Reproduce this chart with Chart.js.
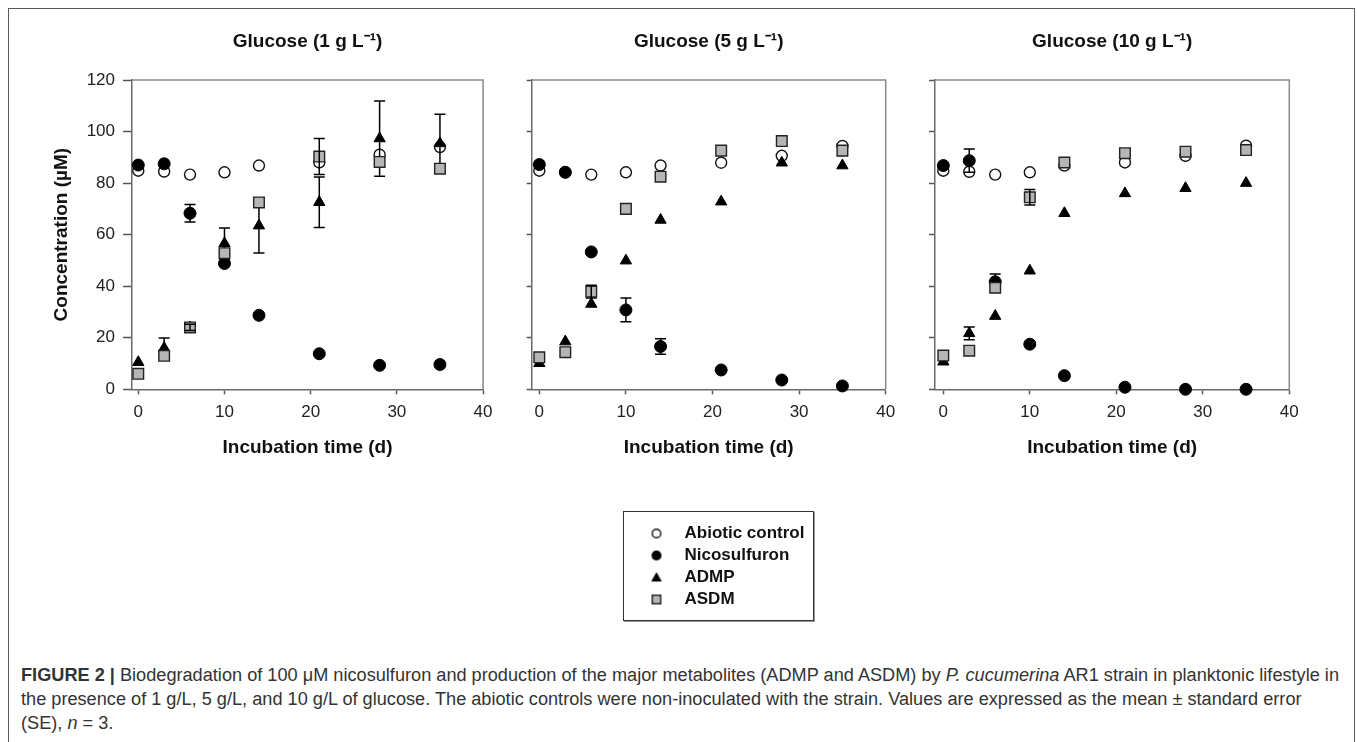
<!DOCTYPE html>
<html>
<head>
<meta charset="utf-8">
<script src="https://cdn.jsdelivr.net/npm/chart.js@4.4.1/dist/chart.umd.min.js"></script>
<style>
  html, body { margin: 0; padding: 0; background: #fff; width: 1357px; height: 742px; overflow: hidden; }
  #frame { position: absolute; left: 8px; top: 8px; width: 1347px; height: 800px; border: 1.5px solid #5a5a5a; box-sizing: border-box; }
  canvas.panel { position: absolute; top: 10px; }
  #legendBox { position: absolute; left: 623px; top: 511px; width: 191px; height: 110px; border: 1.5px solid #333; box-sizing: border-box; box-shadow: 1px 1px 0 #999; background: #fff; overflow: hidden; }
  #legend { position: absolute; left: -1.5px; top: -1.5px; }
  #caption { position: absolute; left: 21px; top: 663px; font-family: "Liberation Sans Narrow", "Arial Narrow", "Liberation Sans", Arial, sans-serif; font-size: 18px; line-height: 24px; color: #333; }
  .cl { white-space: nowrap; width: max-content; transform-origin: 0 0; }
</style>
</head>
<body>
<div id="frame"></div>
<canvas id="p1" class="panel" width="490" height="460" style="left:10px"></canvas>
<canvas id="p2" class="panel" width="405" height="460" style="left:500px"></canvas>
<canvas id="p3" class="panel" width="410" height="460" style="left:900px"></canvas>
<div id="legendBox"><canvas id="legend" width="191" height="240"></canvas></div>
<div id="caption">
  <div class="cl" id="cl1"><b>FIGURE 2 |</b> Biodegradation of 100 μM nicosulfuron and production of the major metabolites (ADMP and ASDM) by <i>P. cucumerina</i> AR1 strain in planktonic lifestyle in</div>
  <div class="cl">the presence of 1 g/L, 5 g/L, and 10 g/L of glucose. The abiotic controls were non-inoculated with the strain. Values are expressed as the mean ± standard error</div>
  <div class="cl">(SE), <i>n</i> = 3.</div>
</div>
<script>
// ---------------- data ----------------
const days = [0, 3, 6, 10, 14, 21, 28, 35];
const xTicks = [0, 10, 20, 30, 40];
const yTicks = [0, 20, 40, 60, 80, 100, 120];
const seriesNames = ['Abiotic control', 'Nicosulfuron', 'ADMP', 'ASDM'];
const panelTitles = ['Glucose (1 g L⁻¹)', 'Glucose (5 g L⁻¹)', 'Glucose (10 g L⁻¹)'];
const xAxisTitle = 'Incubation time (d)';
const yAxisTitle = 'Concentration (µM)';

// Glucose 1 g/L
const abiotic1 = [84.8, 84.5, 83.3, 84.2, 86.8, 88.0, 91.0, 94.0];
const nico1    = [87.0, 87.5, 68.3, 48.8, 28.7, 13.8, 9.3, 9.6];
const nicoErr1 = [0, 0, 3.4, 0, 0, 0, 0, 0];
const admp1    = [10.5, 16.0, 24.0, 56.6, 63.5, 72.6, 97.3, 95.4];
const admpErr1 = [0, 3.9, 0, 6.0, 10.6, 9.8, 14.6, 11.3];
const asdm1    = [6.0, 13.0, 24.0, 52.8, 72.5, 90.3, 88.2, 85.6];
const asdmErr1 = [0, 0, 1.2, 0, 0, 7.0, 0, 0];

// Glucose 5 g/L
const abiotic2 = [84.8, 84.2, 83.3, 84.2, 86.8, 87.9, 90.6, 94.4];
const nico2    = [87.2, 84.2, 53.3, 30.8, 16.6, 7.5, 3.6, 1.3];
const nicoErr2 = [0, 0, 0, 4.6, 3.0, 0, 0, 0];
const admp2    = [10.1, 18.5, 33.1, 49.9, 65.7, 72.8, 87.9, 86.8];
const admpErr2 = [0, 0, 0, 0, 0, 0, 0, 0];
const asdm2    = [12.4, 14.4, 37.9, 70.0, 82.5, 92.6, 96.3, 92.6];
const asdmErr2 = [0, 0, 2.5, 0, 0, 0, 0, 0];

// Glucose 10 g/L
const abiotic3 = [84.8, 84.4, 83.3, 84.2, 86.8, 88.0, 90.6, 94.5];
const nico3    = [86.8, 88.7, 41.7, 17.5, 5.3, 0.8, 0.0, 0.0];
const nicoErr3 = [0, 4.5, 3.0, 0, 0, 0, 0, 0];
const admp3    = [10.7, 21.7, 28.4, 46.0, 68.3, 76.0, 78.0, 80.0];
const admpErr3 = [0, 2.5, 0, 0, 0, 0, 0, 0];
const asdm3    = [13.1, 15.0, 39.4, 74.5, 88.0, 91.6, 92.2, 92.8];
const asdmErr3 = [0, 0, 0, 3.0, 0, 0, 0, 0];

// ---------------- styles / layout ----------------
const FONT = '"Liberation Sans", Arial, Helvetica, sans-serif';
Chart.defaults.font.family = FONT;

const seriesStyles = [
  { pointStyle: 'circle',   radius: 5.5, bg: '#ffffff', border: '#111', bw: 1.4, order: 3 },
  { pointStyle: 'circle',   radius: 6.0, bg: '#000000', border: '#000', bw: 1.0, order: 2 },
  { pointStyle: 'triangle', radius: 6.5, bg: '#000000', border: '#000', bw: 1.0, order: 1 },
  { pointStyle: 'rect',     radius: 7.5, bg: '#b5b5b5', border: '#222', bw: 1.4, order: 0 }
];

const panelLayout = [
  { id: 'p1', yWidth: 122,  padRight: 15,   xMin: -0.73, tickLen: 9, showY: true },
  { id: 'p2', yWidth: 31.7, padRight: 19.3, xMin: -0.88, tickLen: 5, showY: false },
  { id: 'p3', yWidth: 35,   padRight: 20.7, xMin: -0.96, tickLen: 6, showY: false }
];

const panels = [
  { values: [abiotic1, nico1, admp1, asdm1], errors: [null, nicoErr1, admpErr1, asdmErr1] },
  { values: [abiotic2, nico2, admp2, asdm2], errors: [null, nicoErr2, admpErr2, asdmErr2] },
  { values: [abiotic3, nico3, admp3, asdm3], errors: [null, nicoErr3, admpErr3, asdmErr3] }
];

// ---------------- plugins ----------------
const frameLines = {
  id: 'frameLines',
  beforeDatasetsDraw(chart) {
    const { ctx, chartArea: a } = chart;
    ctx.save();
    ctx.strokeStyle = '#8a8a8a';
    ctx.lineWidth = 1.5;
    ctx.beginPath();
    ctx.moveTo(a.left, a.top);
    ctx.lineTo(a.right, a.top);
    ctx.lineTo(a.right, a.bottom);
    ctx.stroke();
    ctx.restore();
  }
};

const errorBars = {
  id: 'errorBars',
  afterDatasetDraw(chart, args) {
    const ds = chart.data.datasets[args.index];
    if (!ds.errors) return;
    const xs = chart.scales.x, ys = chart.scales.y, ctx = chart.ctx;
    ctx.save();
    ctx.strokeStyle = '#000';
    ctx.lineWidth = 1.5;
    ds.data.forEach((p, i) => {
      const e = ds.errors[i];
      if (!e) return;
      const x = xs.getPixelForValue(p.x);
      const yt = ys.getPixelForValue(p.y + e);
      const yb = ys.getPixelForValue(p.y - e);
      ctx.beginPath();
      ctx.moveTo(x, yt); ctx.lineTo(x, yb);
      ctx.moveTo(x - 5.5, yt); ctx.lineTo(x + 5.5, yt);
      ctx.moveTo(x - 5.5, yb); ctx.lineTo(x + 5.5, yb);
      ctx.stroke();
    });
    ctx.restore();
  }
};

// ---------------- panels ----------------
panels.forEach((panel, pi) => {
  const L = panelLayout[pi];
  const datasets = seriesNames.map((name, si) => {
    const st = seriesStyles[si];
    return {
      label: name,
      data: days.map((d, k) => ({ x: d, y: panel.values[si][k] })),
      errors: panel.errors[si],
      pointStyle: st.pointStyle,
      pointRadius: st.radius,
      pointBackgroundColor: st.bg,
      pointBorderColor: st.border,
      pointBorderWidth: st.bw,
      backgroundColor: st.bg,
      borderColor: st.border,
      showLine: false,
      clip: false,
      order: st.order
    };
  });
  new Chart(document.getElementById(L.id), {
    type: 'scatter',
    data: { datasets },
    options: {
      responsive: false,
      animation: false,
      events: [],
      layout: { padding: { left: 0, right: L.padRight, top: 0, bottom: 0 } },
      plugins: {
        legend: { display: false },
        tooltip: { enabled: false },
        title: {
          display: true, text: panelTitles[pi], fullSize: false,
          color: '#111', font: { size: 19, weight: 'bold' },
          padding: { top: 20.6, bottom: 26.6 }
        }
      },
      scales: {
        x: {
          type: 'linear', min: L.xMin, max: 40,
          afterBuildTicks: ax => { ax.ticks = xTicks.map(v => ({ value: v })); },
          afterFit: ax => { ax.height = 80.7; },
          grid: { display: true, drawOnChartArea: false, drawTicks: true, tickLength: 5, tickColor: '#555', tickWidth: 1.5 },
          border: { display: true, color: '#6a6a6a', width: 1.5 },
          ticks: { padding: 7.5, color: '#222', font: { size: 17 } },
          title: { display: true, text: xAxisTitle, color: '#111', font: { size: 19, weight: 'bold' }, padding: { top: 10, bottom: 10.6 } }
        },
        y: {
          type: 'linear', min: 0, max: 120,
          afterBuildTicks: ax => { ax.ticks = yTicks.map(v => ({ value: v })); },
          afterFit: ax => { ax.width = L.yWidth; },
          grid: { display: true, drawOnChartArea: false, drawTicks: true, tickLength: L.tickLen, tickColor: '#555', tickWidth: 1.5 },
          border: { display: true, color: '#6a6a6a', width: 1.5 },
          ticks: { display: L.showY, padding: 8, color: '#222', font: { size: 17 } },
          title: { display: L.showY, text: yAxisTitle, color: '#111', font: { size: 19, weight: 'bold' }, padding: { top: 40.3, bottom: 0 } }
        }
      }
    },
    plugins: [frameLines, errorBars]
  });
});

// ---------------- legend ----------------
function markerImage(i) {
  const c = document.createElement('canvas');
  c.width = 20; c.height = 20;
  const g = c.getContext('2d');
  g.lineWidth = 1.4;
  if (i === 0) { g.beginPath(); g.arc(10, 10, 4.3, 0, Math.PI * 2); g.fillStyle = '#fff'; g.fill(); g.strokeStyle = '#111'; g.stroke(); }
  if (i === 1) { g.beginPath(); g.arc(10, 10, 5, 0, Math.PI * 2); g.fillStyle = '#000'; g.fill(); }
  if (i === 2) { g.beginPath(); g.moveTo(10, 4.5); g.lineTo(15.3, 14); g.lineTo(4.7, 14); g.closePath(); g.fillStyle = '#000'; g.fill(); }
  if (i === 3) { g.fillStyle = '#b5b5b5'; g.fillRect(5.7, 5.7, 8.6, 8.6); g.strokeStyle = '#222'; g.strokeRect(5.7, 5.7, 8.6, 8.6); }
  return c;
}
const markerImgs = seriesNames.map((n, i) => markerImage(i));

new Chart(document.getElementById('legend'), {
  type: 'scatter',
  data: { datasets: seriesNames.map((n, i) => ({ label: n, data: [], pointStyle: markerImgs[i] })) },
  options: {
    responsive: false, animation: false, events: [],
    layout: { padding: { left: 9, top: 9 } },
    scales: { x: { display: false }, y: { display: false } },
    plugins: {
      tooltip: { enabled: false },
      legend: {
        display: true, position: 'top', align: 'start',
        labels: {
          usePointStyle: true, pointStyleWidth: 39, boxHeight: 10, padding: 5,
          color: '#111', font: { size: 17, weight: 'bold' },
          generateLabels: chart => seriesNames.map((n, i) => ({
            text: n, pointStyle: markerImgs[i], fillStyle: '#000', strokeStyle: '#000',
            lineWidth: 0, hidden: false, datasetIndex: i, fontColor: '#111'
          }))
        }
      }
    }
  }
});

// ---------------- caption fit ----------------
(function fitCaption() {
  const lines = document.querySelectorAll('#caption .cl');
  const w1 = lines[0].getBoundingClientRect().width;
  const s = 1318 / w1;
  lines.forEach(l => { l.style.transform = 'scaleX(' + s + ')'; });
})();
</script>
</body>
</html>
